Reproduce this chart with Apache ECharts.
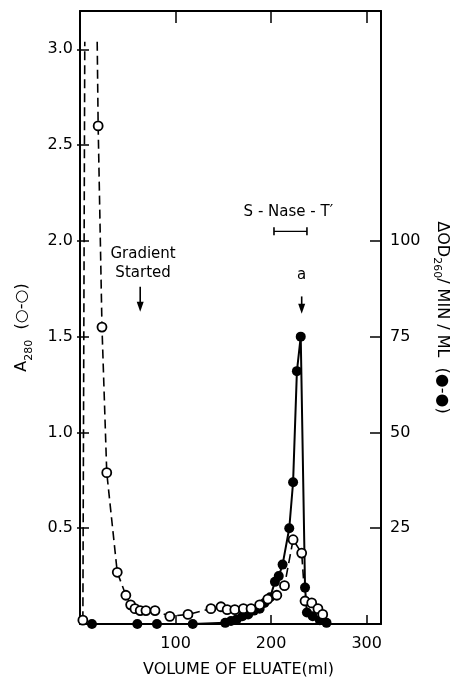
<!DOCTYPE html>
<html>
<head>
<meta charset="utf-8">
<script src="https://cdn.jsdelivr.net/npm/echarts@6/dist/echarts.min.js"></script>
<style>
html,body{margin:0;padding:0;background:#fff;}
#chart{width:451px;height:679px;}
</style>
</head>
<body>
<div id="chart"></div>
<script>
// ---- data ----
const volA = [3, 5, 11, 18, 19, 23, 28, 39, 48, 53, 57.5, 63, 69, 78.5, 94, 113, 137, 147.5, 154, 162, 171, 179, 188, 196.5, 206, 214, 223, 232, 235.5, 242.5, 249, 254];
const a280 = [0.02, 3.04, null, 3.04, 2.60, 1.55, 0.79, 0.27, 0.15, 0.10, 0.08, 0.07, 0.07, 0.07, 0.04, 0.05, 0.08, 0.09, 0.075, 0.075, 0.08, 0.08, 0.10, 0.13, 0.15, 0.20, 0.44, 0.37, 0.12, 0.11, 0.08, 0.05];
const volD = [12.5, 60, 80.5, 118, 152, 158, 164, 170, 176, 182, 188, 193, 199, 204, 208, 212, 219, 223, 227, 231, 235.5, 237.5, 243.5, 251, 258];
const dOD = [0, 0, 0, 0, 0.3, 0.8, 1.2, 2, 2.5, 3.5, 4, 5.5, 7, 11, 12.5, 15.5, 25, 37, 66, 75, 9.5, 3, 2, 1, 0.3];
const xTicks = [100, 200, 300];
const leftTicks = [0.5, 1.0, 1.5, 2.0, 2.5, 3.0];
const rightTicks = [25, 50, 75, 100];

const FONT = 'DejaVu Sans';
const chart = echarts.init(document.getElementById('chart'), null, {renderer: 'canvas'});

const axisLineStyle = {color: '#000', width: 2};
const tickStyle = {color: '#000', width: 1.5};

const option = {
  backgroundColor: '#fff',
  animation: false,
  grid: {left: 80, right: 70, top: 11, bottom: 55, containLabel: false, outerBoundsMode: 'none'},
  xAxis: [{
    type: 'value', min: 0, max: 315, interval: 100,
    position: 'bottom',
    axisLine: {show: true, onZero: false, lineStyle: axisLineStyle},
    axisTick: {show: true, inside: true, length: 9, lineStyle: tickStyle, customValues: xTicks},
    axisLabel: {show: true, customValues: xTicks, margin: 12, color: '#000', fontFamily: FONT, fontSize: 16,
      formatter: v => String(v)},
    splitLine: {show: false},
    name: 'VOLUME OF ELUATE(ml)', nameLocation: 'middle', nameGap: 38,
    nameTextStyle: {color: '#000', fontFamily: FONT, fontSize: 16, padding: [0, 0, 0, 16]}
  }, {
    type: 'value', min: 0, max: 315, interval: 100,
    position: 'top',
    axisLine: {show: true, onZero: false, lineStyle: axisLineStyle},
    axisTick: {show: true, inside: true, length: 12, lineStyle: tickStyle, customValues: xTicks},
    axisLabel: {show: false},
    splitLine: {show: false}
  }],
  yAxis: [{
    type: 'value', min: 0, max: 3.2, interval: 0.5,
    position: 'left',
    axisLine: {show: true, onZero: false, lineStyle: axisLineStyle},
    axisTick: {show: true, inside: true, length: 9, lineStyle: tickStyle, customValues: leftTicks},
    axisLabel: {show: true, customValues: leftTicks, margin: 7, color: '#000', fontFamily: FONT, fontSize: 16,
      formatter: v => v.toFixed(1)},
    splitLine: {show: false},
    name: '{n|A}{s|280}{n|  (○-○)}', nameLocation: 'middle', nameGap: 50, nameRotate: 90,
    nameTextStyle: {
      color: '#000', fontFamily: FONT, fontSize: 16, padding: [0, 20, 0, 0],
      rich: {
        n: {fontFamily: FONT, fontSize: 16, color: '#000', verticalAlign: 'bottom', lineHeight: 20},
        s: {fontFamily: FONT, fontSize: 11, color: '#000', verticalAlign: 'bottom', lineHeight: 20, padding: [0, 0, -5, 0]}
      }
    }
  }, {
    type: 'value', min: 0, max: 160, interval: 25,
    position: 'right',
    axisLine: {show: true, onZero: false, lineStyle: axisLineStyle},
    axisTick: {show: true, inside: true, length: 11, lineStyle: tickStyle, customValues: rightTicks},
    axisLabel: {show: true, customValues: rightTicks, margin: 9, color: '#000', fontFamily: FONT, fontSize: 16},
    splitLine: {show: false},
    name: '{n|ΔOD}{s|260}{n|/ MIN / ML  (●-●)}', nameLocation: 'middle', nameGap: 50, nameRotate: -90,
    nameTextStyle: {
      color: '#000', fontFamily: FONT, fontSize: 16,
      rich: {
        n: {fontFamily: FONT, fontSize: 16, color: '#000', verticalAlign: 'bottom', lineHeight: 20},
        s: {fontFamily: FONT, fontSize: 11, color: '#000', verticalAlign: 'bottom', lineHeight: 20, padding: [0, 0, -3, 0]}
      }
    }
  }, {
    type: 'value', min: 0, max: 3.2, interval: 0.5,
    position: 'left',
    axisLine: {show: false, onZero: false},
    axisTick: {show: true, inside: false, length: 3, lineStyle: tickStyle, customValues: leftTicks},
    axisLabel: {show: false},
    splitLine: {show: false}
  }],
  series: [{
    name: 'dOD',
    type: 'line',
    xAxisIndex: 0, yAxisIndex: 1,
    data: volD.map((x, i) => [x, dOD[i]]),
    symbol: 'circle', symbolSize: 10,
    itemStyle: {color: '#000', borderColor: '#000', borderWidth: 0},
    lineStyle: {color: '#000', width: 2},
    z: 3
  }, {
    name: 'A280',
    type: 'line',
    xAxisIndex: 0, yAxisIndex: 0,
    data: volA.map((x, i) => [x, a280[i]]),
    connectNulls: false,
    symbol: (val) => (val[1] != null && val[1] > 3.0) ? 'none' : 'circle',
    symbolSize: 9,
    showAllSymbol: true,
    itemStyle: {color: '#fff', borderColor: '#000', borderWidth: 1.8},
    lineStyle: {color: '#000', width: 1.6, type: [9, 5]},
    z: 4
  }]
};
chart.setOption(option);

// ---- annotations (data coordinates) ----
const annText = [
  {text: 'Gradient', x: 66, y: 1.93, size: 15},
  {text: 'Started', x: 66, y: 1.83, size: 15},
  {text: 'S - Nase - T′', x: 218, y: 2.15, size: 15},
  {text: 'a', x: 232, y: 1.82, size: 15}
];
const annArrows = [
  {x: 63, y0: 1.76, y1: 1.63},
  {x: 232, y0: 1.71, y1: 1.62}
];
const bracket = {x0: 203, x1: 237.5, y: 2.05};

function px(x, y) { return chart.convertToPixel({xAxisIndex: 0, yAxisIndex: 0}, [x, y]); }

const g = [];
annText.forEach(a => {
  const p = px(a.x, a.y);
  g.push({type: 'text', x: p[0], y: p[1], style: {text: a.text, fill: '#000', font: a.size + 'px "' + FONT + '"', align: 'center', verticalAlign: 'middle'}});
});
annArrows.forEach(a => {
  const p0 = px(a.x, a.y0), p1 = px(a.x, a.y1);
  g.push({type: 'line', shape: {x1: p0[0], y1: p0[1], x2: p1[0], y2: p1[1] - 8}, style: {stroke: '#000', lineWidth: 1.6}});
  g.push({type: 'polygon', shape: {points: [[p1[0] - 3.5, p1[1] - 10], [p1[0] + 3.5, p1[1] - 10], [p1[0], p1[1]]]}, style: {fill: '#000'}});
});
(function () {
  const a = px(bracket.x0, bracket.y), b = px(bracket.x1, bracket.y);
  g.push({type: 'line', shape: {x1: a[0], y1: a[1], x2: b[0], y2: b[1]}, style: {stroke: '#000', lineWidth: 1.3}});
  g.push({type: 'line', shape: {x1: a[0], y1: a[1] - 4, x2: a[0], y2: a[1] + 4}, style: {stroke: '#000', lineWidth: 1.6}});
  g.push({type: 'line', shape: {x1: b[0], y1: b[1] - 4, x2: b[0], y2: b[1] + 4}, style: {stroke: '#000', lineWidth: 1.6}});
})();
chart.setOption({graphic: g});
</script>
</body>
</html>
